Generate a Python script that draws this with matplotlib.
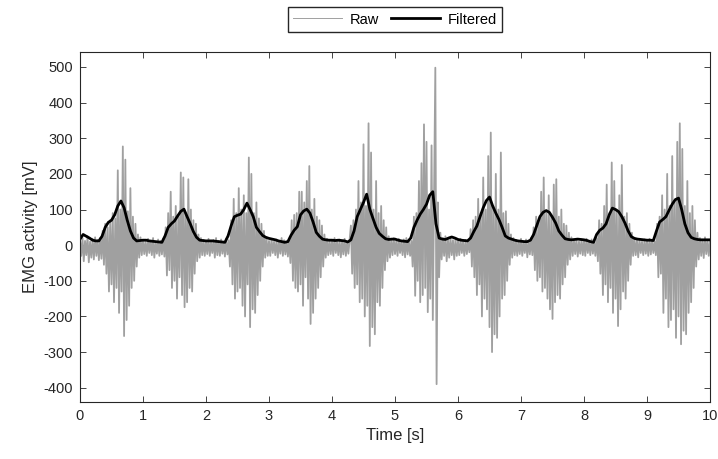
import matplotlib.pyplot as plt
import numpy as np

plt.rcParams['font.family'] = ['Liberation Sans', 'DejaVu Sans']
plt.rcParams['axes.unicode_minus'] = False

# raw EMG, one sample every 0.02 s (rows of 0.5 s)
raw_dt = 0.02
raw = [
    15, -30, 20, -45, 12, -28, 25, -48, 10, -35, 18, -40, 22, -30, 14, -42, 20, -38, 40, -55, 60, -80, 50, -130, 70,
    -110, 90, -160, 75, -120, 210, -190, 100, -130, 277, -255, 240, -210, 95, -170, 160, -120, 80, -100, 60, -60, 30, -35, 22, -28,
    15, -25, 10, -30, 18, -22, 12, -28, 20, -35, 8, -24, 16, -30, 12, -26, 18, -32, 50, -85, 90, -70, 150, -120, 80,
    -100, 110, -150, 80, -90, 204, -140, 190, -174, 90, -160, 185, -120, 100, -130, 70, -80, 60, -45, 30, -35, 20, -28, 15, -30,
    12, -25, 18, -30, 10, -22, 15, -35, 20, -28, 12, -30, 16, -24, 10, -32, 18, -26, 14, -60, 70, -110, 130, -150, 90,
    -130, 160, -120, 100, -170, 140, -200, 90, -110, 246, -230, 200, -180, 90, -190, 120, -140, 75, -100, 60, -60, 40, -35, 22, -30,
    12, -30, 18, -22, 10, -28, 16, -35, 12, -24, 20, -30, 14, -26, 10, -32, 18, -50, 70, -100, 85, -120, 90, -130, 150,
    -110, 150, -170, 120, -90, 180, -150, 222, -221, 100, -190, 130, -150, 80, -120, 70, -90, 55, -60, 30, -35, 18, -28, 12, -25,
    15, -30, 20, -22, 10, -28, 16, -34, 12, -26, 18, -30, 10, -24, 14, 55, -80, 70, -120, 100, -110, 180, -160, 120, -150,
    283, -200, 110, -170, 342, -283, 260, -230, 100, -250, 180, -160, 90, -170, 110, -120, 70, -70, 50, -45, 25, -35, 15, -28, 20,
    -25, 12, -30, 18, -22, 10, -28, 16, -34, 20, -26, 14, -30, 12, -60, 80, -142, 90, -100, 180, -160, 230, -140, 339, -120,
    290, -188, 100, -150, 280, -210, 150, 498, -390, 120, -90, 35, -40, 20, -30, 25, -45, 18, -35, 22, -28, 14, -40, 20, -30,
    12, -28, 18, -22, 10, -30, 15, -25, 12, -20, 45, -60, 70, -90, 80, -140, 130, -110, 90, -200, 190, -150, 100, -180, 250,
    -230, 316, -300, 110, -250, 200, -260, 100, -200, 260, -150, 90, -140, 95, -100, 60, -55, 30, -35, 20, -28, 15, -30, 12, -25,
    18, -30, 10, -22, 16, -34, 12, -26, 20, -28, 50, -70, 80, -100, 70, -90, 150, -130, 190, -120, 90, -150, 140, -180, 80,
    -207, 170, -160, 185, -140, 80, -150, 100, -110, 60, -90, 55, -55, 35, -40, 22, -30, 15, -25, 18, -32, 10, -24, 16, -28,
    14, -30, 18, -22, 10, -28, 16, -24, 12, -30, 20, -45, 70, -80, 60, -140, 110, -110, 170, -160, 90, -120, 232, -190, 180,
    -150, 100, -227, 140, -180, 225, -130, 80, -150, 90, -100, 60, -55, 35, -30, 20, -28, 14, -34, 18, -22, 10, -28, 16, -24,
    12, -30, 18, -26, 14, -22, 10, -28, 60, -90, 80, -80, 140, -190, 100, -150, 200, -230, 110, -210, 250, -180, 120, -260, 290,
    -200, 342, -278, 270, -240, 110, -250, 180, -190, 90, -160, 110, -120, 70, -60, 35, -40, 20, -30, 15, -36, 22, -25, 12, -30,
    15,
]

# filtered envelope, one value every 0.05 s (rows of 1 s)
filt_dt = 0.05
filtered = [
    17, 30, 25, 20, 14, 12, 12, 25, 50, 64, 70, 85, 110, 124, 105, 70, 40, 20, 12, 13,
    14, 14, 12, 11, 10, 9, 8, 26, 50, 60, 68, 82, 95, 101, 80, 60, 38, 22, 14, 13,
    12, 12, 12, 11, 10, 9, 8, 26, 55, 80, 84, 87, 100, 118, 100, 80, 50, 38, 27, 22,
    19, 17, 15, 12, 10, 8, 10, 28, 42, 52, 85, 96, 101, 90, 65, 36, 25, 17, 15, 14,
    14, 13, 14, 13, 12, 9, 15, 40, 80, 100, 120, 143, 101, 75, 50, 33, 25, 18, 16, 17,
    17, 14, 12, 11, 10, 20, 50, 70, 87, 100, 115, 140, 150, 60, 20, 17, 16, 20, 23, 20,
    16, 14, 13, 12, 20, 38, 54, 80, 105, 125, 135, 110, 90, 72, 50, 26, 20, 17, 14, 12,
    11, 10, 10, 14, 30, 55, 80, 92, 97, 92, 78, 62, 40, 28, 18, 16, 15, 16, 17, 16,
    15, 13, 10, 8, 30, 42, 48, 60, 85, 104, 100, 94, 80, 62, 40, 24, 19, 17, 16, 15,
    14, 14, 13, 40, 65, 72, 80, 98, 115, 128, 132, 100, 60, 35, 22, 18, 16, 15, 15, 15,
    15,
]

t_raw = np.arange(len(raw)) * raw_dt
t_filt = np.arange(len(filtered)) * filt_dt

fig = plt.figure(figsize=(7.18, 4.59), dpi=100)
ax = fig.add_axes([0.1114, 0.1242, 0.8775, 0.7625])

ax.plot(t_raw, raw, color='#a0a0a0', linewidth=1.3, label='Raw')
ax.plot(t_filt, filtered, color='black', linewidth=2.0, label='Filtered')

ax.set_xlim(0, 10)
ax.set_ylim(-440, 542)
ax.set_xticks(np.arange(0, 11, 1))
ax.set_yticks(np.arange(-400, 501, 100))
ax.tick_params(direction='in', top=True, right=True, labelsize=10.5,
               length=4, width=0.6, colors='#262626', pad=5)
for s in ax.spines.values():
    s.set_color('#262626')
    s.set_linewidth(0.8)

ax.set_xlabel('Time [s]', fontsize=12, color='#262626')
ax.set_ylabel('EMG activity [mV]', fontsize=12, color='#262626')

# legend handle for raw drawn thinner, like the reference
handles, labels = ax.get_legend_handles_labels()
leg = fig.legend(handles, labels, loc='center', bbox_to_anchor=(0.550, 0.9575), ncol=2,
                 fontsize=10.5, frameon=True, fancybox=False, edgecolor='#262626',
                 framealpha=1, handlelength=3.4, handletextpad=0.5, columnspacing=0.8,
                 borderpad=0.35, borderaxespad=0)
leg.get_lines()[0].set_linewidth(0.7)

fig.savefig('out.png', dpi=100)
